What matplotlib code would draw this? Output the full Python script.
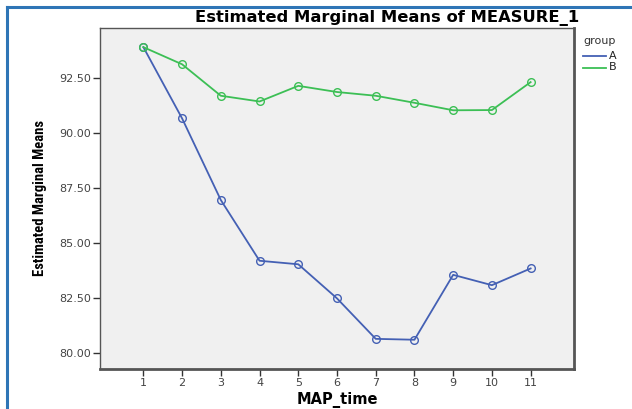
import matplotlib
matplotlib.use("Agg")
import matplotlib.pyplot as plt
from matplotlib.lines import Line2D
from matplotlib import font_manager

times = [1, 2, 3, 4, 5, 6, 7, 8, 9, 10, 11]
group_a = [93.92, 90.68, 86.97, 84.21, 84.05, 82.50, 80.66, 80.62, 83.57, 83.10, 83.86]
group_b = [93.92, 93.14, 91.71, 91.45, 92.16, 91.88, 91.71, 91.39, 91.05, 91.06, 92.33]
yticks = [80.0, 82.5, 85.0, 87.5, 90.0, 92.5]
ytick_labels = ["80.00", "82.50", "85.00", "87.50", "90.00", "92.50"]
series_names = ["A", "B"]

plt.rcParams['font.family'] = ['DejaVu Sans']

W, H = 632, 409
fig = plt.figure(figsize=(W / 100, H / 100), dpi=100)
fig.patch.set_facecolor('white')

ax = fig.add_axes([100 / W, (H - 369) / H, 474 / W, 341 / H])
ax.set_facecolor('#f0f0f0')

col_a = '#4460b4'
col_b = '#3cbf55'
ax.plot(times, group_a, color=col_a, lw=1.3, marker='o', ms=5.5,
        mfc='none', mec=col_a, mew=1.0)
ax.plot(times, group_b, color=col_b, lw=1.3, marker='o', ms=5.5,
        mfc='none', mec=col_b, mew=1.0)

ax.set_xlim(-0.12, 12.12)
ax.set_ylim(79.29, 94.79)
ax.set_xticks(times)
ax.set_xticklabels([str(t) for t in times])
ax.set_yticks(yticks)
ax.set_yticklabels(ytick_labels)
ax.tick_params(direction='out', length=5, width=1, color='#333333',
               labelsize=8, labelcolor='#444444', pad=1.5)

for s in ['left', 'top']:
    ax.spines[s].set_color('#555555')
    ax.spines[s].set_linewidth(1.0)
for s in ['right', 'bottom']:
    ax.spines[s].set_color('#555555')
    ax.spines[s].set_linewidth(2.0)

ax.set_xlabel('MAP_time', fontsize=10.5, fontweight='bold', labelpad=3)

narrow_bold = None
for f in font_manager.fontManager.ttflist:
    if 'Narrow' in f.name or 'Condensed' in f.name:
        w = f.weight if isinstance(f.weight, int) else (700 if 'bold' in str(f.weight).lower() else 400)
        if w >= 600:
            narrow_bold = f.name
if narrow_bold:
    ax.set_ylabel('Estimated Marginal Means', labelpad=9, fontsize=10.5,
                  fontweight='bold', family=[narrow_bold, 'DejaVu Sans'])
else:
    ax.set_ylabel('Estimated Marginal Means', labelpad=9, fontsize=9.5,
                  fontweight='bold', family=['Liberation Sans', 'DejaVu Sans'])

fig.text(387 / W, 1 - 18 / H, 'Estimated Marginal Means of MEASURE_1',
         ha='center', va='center', fontsize=11.8, fontweight='bold')

# legend
fig.text(583 / W, 1 - 41 / H, 'group', ha='left', va='center', fontsize=8, color='#333333')
for name, col, y in [(series_names[0], col_a, 56), (series_names[1], col_b, 67.5)]:
    fig.add_artist(Line2D([583 / W, 606 / W], [1 - y / H, 1 - y / H], color=col, lw=1.3))
    fig.text(609 / W, 1 - y / H, name, ha='left', va='center', fontsize=8, color='#222222')

# outer blue border (left and top)
bcol = '#2e75b6'
fig.add_artist(Line2D([7 / W, 7 / W], [0, 1 - 7 / H], color=bcol, lw=2.2))
fig.add_artist(Line2D([7 / W, 1], [1 - 7 / H, 1 - 7 / H], color=bcol, lw=2.2))

fig.savefig('out.png', dpi=100, facecolor='white')
